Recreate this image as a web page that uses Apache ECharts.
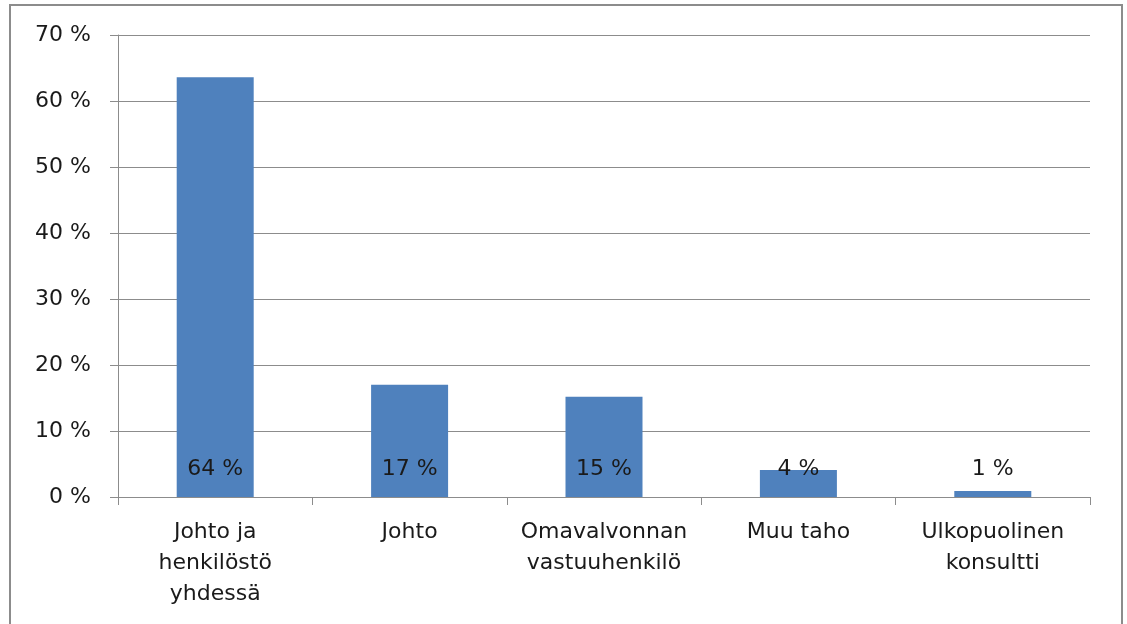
<!DOCTYPE html>
<html>
<head>
<meta charset="utf-8">
<script src="https://cdn.jsdelivr.net/npm/echarts@6/dist/echarts.min.js"></script>
<style>
  html, body { margin: 0; padding: 0; background: #fff; }
  #chart { width: 1127px; height: 624px; }
</style>
</head>
<body>
<div id="chart"></div>
<script>
// data
var categories = ['Johto ja\nhenkilöstö\nyhdessä', 'Johto', 'Omavalvonnan\nvastuuhenkilö', 'Muu taho', 'Ulkopuolinen\nkonsultti']
var values = [63.6, 17.0, 15.2, 4.1, 0.9]
var labels = ['64 %', '17 %', '15 %', '4 %', '1 %']

var font = '"DejaVu Sans", sans-serif'
var chart = echarts.init(document.getElementById('chart'))
chart.setOption({
  animation: false,
  graphic: [{
    type: 'rect',
    shape: { x: 10, y: 5, width: 1112, height: 660 },
    style: { fill: 'none', stroke: '#8c8c8c', lineWidth: 2 }
  }],
  grid: { left: 118, right: 37, top: 35, bottom: 127 },
  xAxis: {
    type: 'category',
    data: categories,
    axisLine: { lineStyle: { color: '#8c8c8c' } },
    axisTick: { show: true, length: 8, lineStyle: { color: '#8c8c8c' } },
    axisLabel: {
      color: '#1a1a1a',
      fontSize: 22,
      fontFamily: font,
      lineHeight: 31,
      margin: 20,
      interval: 0
    }
  },
  yAxis: {
    type: 'value',
    min: 0,
    max: 70,
    interval: 10,
    axisLine: { show: true, lineStyle: { color: '#8c8c8c' } },
    axisTick: { show: true, length: 8, lineStyle: { color: '#8c8c8c' } },
    splitLine: { lineStyle: { color: '#8c8c8c' } },
    axisLabel: {
      color: '#1a1a1a',
      fontSize: 22,
      fontFamily: font,
      margin: 27,
      formatter: function (v) { return v + ' %' }
    }
  },
  series: [{
    type: 'bar',
    data: values,
    barWidth: 77,
    itemStyle: { color: '#4f81bd' },
    label: {
      show: true,
      position: 'insideBottom',
      distance: 17,
      color: '#1a1a1a',
      fontSize: 22,
      fontFamily: font,
      formatter: function (p) { return labels[p.dataIndex] }
    }
  }]
})
</script>
</body>
</html>
